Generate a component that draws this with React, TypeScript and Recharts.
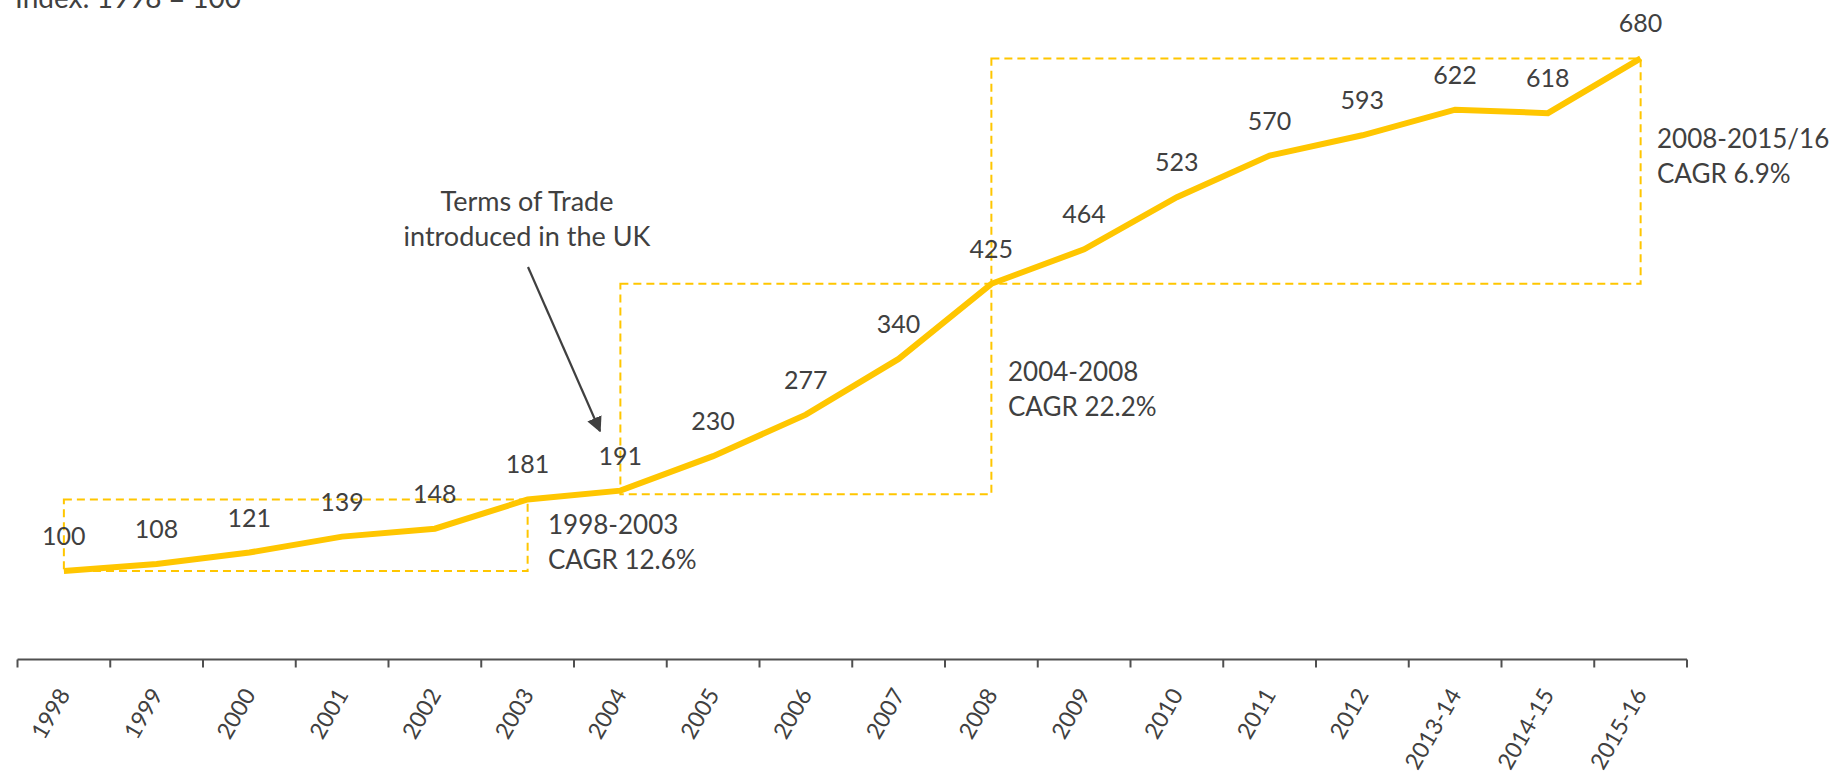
import React from 'react';
import { LineChart, Line, XAxis, YAxis, LabelList, ReferenceArea, Customized } from 'recharts';

document.body.style.margin = '0';
document.body.style.overflow = 'hidden';

// Index: 1998 = 100
const categories = ['1998', '1999', '2000', '2001', '2002', '2003', '2004', '2005', '2006', '2007', '2008', '2009', '2010', '2011', '2012', '2013-14', '2014-15', '2015-16'];
const indexValues = [100, 108, 121, 139, 148, 181, 191, 230, 277, 340, 425, 464, 523, 570, 593, 622, 618, 680];

// CAGR periods (dashed boxes)
const periodNames = ['1998-2003', '2004-2008', '2008-2015/16'];
const periodCagr = ['CAGR 12.6%', 'CAGR 22.2%', 'CAGR 6.9%'];
const periodStart = [0, 6, 10];
const periodEnd = [5, 10, 17];
const periodLow = [100, 187, 425];
const periodHigh = [181, 425, 680];

const GOLD = '#FFC600';
const TEXT = '#404040';
const FONT = 'Lato, sans-serif';

const data = categories.map((name, i) => ({ idx: i, name, value: indexValues[i] }));

// ticks at band edges (x.5) for marks, integers for labels
const tickPositions: number[] = [];
for (let k = 0; k <= categories.length; k++) {
  tickPositions.push(k - 0.5);
  if (k < categories.length) tickPositions.push(k);
}

const AxisTick = (props: any) => {
  const { x, y, payload } = props;
  const v = payload.value;
  if (!Number.isInteger(v)) {
    return <line x1={x} x2={x} y1={y} y2={y + 8} stroke="#505050" strokeWidth={2} />;
  }
  const ty = y + 31;
  return (
    <text
      x={x}
      y={ty}
      dy="0.35em"
      textAnchor="end"
      transform={`rotate(-60 ${x} ${ty})`}
      fontFamily={FONT}
      fontSize={23}
      fill={TEXT}
    >
      {categories[v]}
    </text>
  );
};

const Annotations = () => {
  const textPos = [
    [548, 533.5],
    [1008, 381],
    [1657, 147.5],
  ];
  return (
    <g fontFamily={FONT} fill={TEXT}>
      <text x={15} y={8} fontSize={28}>Index: 1998 = 100</text>
      <text x={527} y={211} fontSize={27} textAnchor="middle">Terms of Trade</text>
      <text x={527} y={245.5} fontSize={27} textAnchor="middle">introduced in the UK</text>
      <defs>
        <marker id="arrowHead" viewBox="0 0 10 10" refX="9" refY="5" markerWidth="7" markerHeight="7" markerUnits="strokeWidth" orient="auto">
          <path d="M0,0 L10,5 L0,10 z" fill={TEXT} />
        </marker>
      </defs>
      <line x1={528} y1={267} x2={600} y2={431} stroke={TEXT} strokeWidth={2.2} markerEnd="url(#arrowHead)" />
      {periodNames.map((n, i) => (
        <g key={n} fontSize={26}>
          <text x={textPos[i][0]} y={textPos[i][1]}>{n}</text>
          <text x={textPos[i][0]} y={textPos[i][1] + 35}>{periodCagr[i]}</text>
        </g>
      ))}
    </g>
  );
};

export default function App() {
  return (
    <LineChart
      width={1831}
      height={775}
      data={data}
      margin={{ top: 40.7, right: 144, bottom: 5.5, left: 17.5 }}
    >
      <XAxis
        dataKey="idx"
        type="number"
        domain={[-0.5, categories.length - 0.5]}
        ticks={tickPositions}
        interval={0}
        tick={<AxisTick />}
        tickLine={false}
        tickSize={0}
        tickMargin={0}
        height={110}
        axisLine={{ stroke: '#505050', strokeWidth: 2 }}
      />
      <YAxis hide domain={[0, 700]} />
      {periodNames.map((n, i) => (
        <ReferenceArea
          key={n}
          x1={periodStart[i]}
          x2={periodEnd[i]}
          y1={periodLow[i]}
          y2={periodHigh[i]}
          fill="none"
          fillOpacity={0}
          stroke={GOLD}
          strokeWidth={2}
          strokeDasharray="8 5"
        />
      ))}
      <Line
        type="linear"
        dataKey="value"
        stroke={GOLD}
        strokeWidth={6}
        dot={false}
        isAnimationActive={false}
      >
        <LabelList dataKey="value" position="top" offset={26} fontFamily={FONT} fontSize={25} fill={TEXT} />
      </Line>
      <Customized component={<Annotations />} />
    </LineChart>
  );
}
